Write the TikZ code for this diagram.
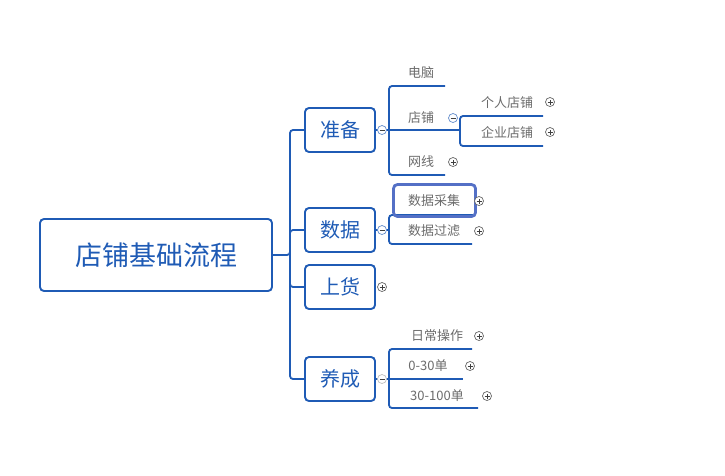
\documentclass[tikz,border=0pt]{standalone}
\usepackage{fontspec}
\setmainfont{Noto Sans CJK SC}
\begin{document}
\begin{tikzpicture}[x=1pt,y=-1pt]
\definecolor{bl}{HTML}{1F5BB5}
\definecolor{hlc}{HTML}{5470C6}
\tikzset{
  ln/.style={draw=bl, line width=1.8pt, rounded corners=3pt},
  main/.style={draw=bl, line width=1.9pt, rounded corners=4pt, minimum width=70pt, minimum height=44pt, font=\fontsize{20}{20}\selectfont, text=bl, inner sep=0pt},
  sub/.style={font=\fontsize{13}{13}\selectfont, text=black!58, inner sep=0pt},
  tg/.style={circle, draw=black!60, fill=white, line width=0.7pt, minimum size=9pt, inner sep=0pt},
  plus/.style={tg, path picture={\draw[line width=0.7pt,black!75] ([xshift=-2.5pt]path picture bounding box.center)--([xshift=2.5pt]path picture bounding box.center) ([yshift=-2.5pt]path picture bounding box.center)--([yshift=2.5pt]path picture bounding box.center);}},
  minus/.style={tg, draw=bl!70, path picture={\draw[line width=0.7pt,black!75] ([xshift=-2.5pt]path picture bounding box.center)--([xshift=2.5pt]path picture bounding box.center);}}}
\useasboundingbox (0,0) rectangle (725,475);
\node[main, minimum width=232pt, minimum height=72pt, font=\fontsize{27}{27}\selectfont] (root) at (156,255) {店铺基础流程};
\node[main] (zb) at (340,130) {准备};
\node[main] (sj) at (340,230) {数据};
\node[main] (sh) at (340,287) {上货};
\node[main] (yc) at (340,379) {养成};
\coordinate (j) at (290,255);
\draw[ln] (root.east) -- (j) |- (zb.west);
\draw[ln] (j) |- (yc.west);
\draw[ln] (j) |- (sj.west);
\draw[ln] (j) |- (sh.west);
% 准备
\coordinate (a1) at (445,86); \coordinate (a2) at (460,130); \coordinate (a3) at (445,175);
\draw[ln] (zb.east) -- (a2);
\draw[ln] (a1) -| (389,130) |- (a3);
\node[sub] (dn) at (421,73) {电脑};
\node[sub] (dp) at (421,118) {店铺};
\node[sub] (wx) at (421,162) {网线};
\node[minus] (m1) at (382,130) {};
\node[minus] (m2) at (453,118) {};
\node[plus] (p1) at (453,162) {};
\coordinate (b1) at (543,116); \coordinate (b2) at (543,146);
\draw[ln] (b1) -| (460,130) |- (b2);
\node[sub] (gr) at (507,103) {个人店铺};
\node[sub] (qy) at (507,132) {企业店铺};
\node[plus] (p2) at (550,102) {};
\node[plus] (p3) at (550,132) {};
% 数据
\coordinate (c1) at (473,215); \coordinate (c2) at (472,244);
\draw[ln] (sj.east) -- (389,230);
\draw[ln] (c1) -| (389,230) |- (c2);
\node[draw=hlc, line width=2.8pt, rounded corners=4pt, minimum width=82pt, minimum height=32pt] (hl) at (434.5,200.5) {};
\node[sub] (cj) at (434,201) {数据采集};
\node[sub] (gl) at (434,231) {数据过滤};
\node[minus] (m3) at (382,230) {};
\node[plus] (p4) at (479,201) {};
\node[plus] (p5) at (479,231) {};
\node[plus] (p6) at (382,287) {};
% 养成
\coordinate (d1) at (472,349); \coordinate (d2) at (463,379); \coordinate (d3) at (478,408);
\draw[ln] (yc.east) -- (d2);
\draw[ln] (d1) -| (389,379) |- (d3);
\node[sub] (rc) at (437,336) {日常操作};
\node[sub] (s1) at (428,366) {0-30单};
\node[sub] (s2) at (437,396) {30-100单};
\node[minus, draw=black!25] (m4) at (382,379) {};
\node[plus] (p7) at (479,336) {};
\node[plus] (p8) at (470,366) {};
\node[plus] (p9) at (487,396) {};
\end{tikzpicture}
\end{document}
